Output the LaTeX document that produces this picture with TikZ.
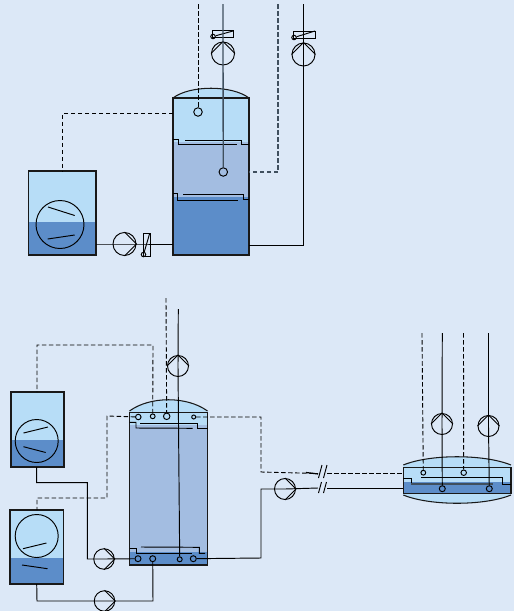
\documentclass[tikz,border=0pt]{standalone}
\usepackage{tikz}
\usetikzlibrary{arrows.meta,positioning,calc}

\definecolor{pagebg}{HTML}{DCE8F7}
\definecolor{liqlight}{HTML}{B7DDF7}
\definecolor{liqmid}{HTML}{A3BDE1}
\definecolor{liqdark}{HTML}{5C8DC9}
\definecolor{pipegrey}{HTML}{3F4F5E}

\tikzset{
  pipe/.style={line width=0.95pt,black},
  pipegr/.style={line width=1.4pt,pipegrey},
  signal/.style={line width=0.9pt,black,dash pattern=on 4.5pt off 2.5pt},
  wall/.style={line width=1.05pt,black!90},
  thin line/.style={line width=0.95pt,black},
  pumpnode/.style={circle,draw,line width=0.95pt,inner sep=0pt,minimum size=#1},
  pumpnode/.default=23pt,
  probe/.style={circle,draw,line width=0.95pt,inner sep=0pt,minimum size=#1},
  probe/.default=6pt
}

\begin{document}
\begin{tikzpicture}[x=1pt,y=-1pt]

  \fill[pagebg] (0,0) rectangle (514,611);
  \useasboundingbox (0,0) rectangle (514,611);

  % upper column: fills
  \fill[liqlight] (173,98) .. controls (190,85) and (232,85) .. (249,98) -- (249,142) -- (173,142) -- cycle;
  \fill[liqmid] (173,142) rectangle (249,197);
  \fill[liqdark] (173,197) rectangle (249,255);
  \draw[wall] (173,98) .. controls (190,85) and (232,85) .. (249,98);
  \draw[wall] (173,98) rectangle (249,255);

  % upper column: trays
  \foreach \ya/\yb/\xa/\xb/\xc/\xd in {139.3/144.7/178.3/236.7/185/241.7,193.5/200/177.3/237.7/183.3/243.3} {
    \draw[pipe] (173,\ya) -- (\xa,\ya) -- (\xa,\yb) -- (\xb,\yb);
    \draw[pipe] (\xc,\ya+1) -- (\xd,\ya+1) -- (\xd,\yb-0.5) -- (249,\yb-0.5);
  }

  % upper pumps and probes
  \node[pumpnode] (pumpa) at (223,53.5) {};
  \node[pumpnode] (pumpb) at (303.5,54.5) {};
  \node[pumpnode] (pumpc) at (124.5,244) {};
  \node[probe=8.5pt] (probea) at (198,112) {};
  \node[probe=8.5pt] (probeb) at (223.3,172) {};
  \draw[pipe] (pumpa.west) -- (pumpa.north) -- (pumpa.east);
  \draw[pipe] (pumpb.west) -- (pumpb.north) -- (pumpb.east);
  \draw[pipe] (pumpc.north) -- (pumpc.east) -- (pumpc.south);

  % upper valves
  \node[probe=4.5pt] (valvea) at (213,36.5) {};
  \node[probe=4.5pt] (valveb) at (294,37.5) {};
  \node[probe=4.5pt] (valvec) at (143.5,254.5) {};
  \draw[thin line] (212.5,30.5) rectangle (233,37.5);
  \draw[thin line] (valvea) -- (233,31);
  \draw[thin line] (293,31) rectangle (315,38);
  \draw[thin line] (valveb) -- (315,31);
  \draw[thin line] (143,233.5) rectangle (150.5,256);
  \draw[thin line] (valvec) -- (149.5,234);

  % upper tank
  \fill[liqlight] (28.5,171) rectangle (96,222);
  \fill[liqdark] (28.5,222) rectangle (96,255);
  \draw[wall] (28.5,171) rectangle (96,255);
  \node[circle,draw,line width=0.95pt,inner sep=0pt,minimum size=48pt] (gaugea) at (60,224.5) {};
  \draw[thin line] (48,207) -- (74.7,215.5);
  \draw[thin line] (47.7,239) -- (74.7,235);

  % upper pipes
  \coordinate (topa) at (223,4);
  \coordinate (topb) at (303.5,4);
  \coordinate (topc) at (198,4);
  \coordinate (topd) at (278,4);
  \draw[pipegr] (topa) -- (pumpa.center) -- (probeb);
  \draw[pipe] (topb) -- (pumpb.center) -- (303.5,245) -- (249,245);
  \draw[pipe] (96,244) -- (pumpc.center) -- (173,244);
  \draw[signal] (topc) -- (probea);
  \draw[signal,pipegrey,line width=1.2pt] (topd) -- (278,172) -- (249,172);
  \draw[signal] (173,113.4) -- (62.4,113.4) -- (62.4,171);

  % lower column: fills
  \fill[liqlight] (129.5,411) .. controls (150,396) and (187,396) .. (207.5,411) -- (207.5,425) -- (129.5,425) -- cycle;
  \fill[liqmid] (129.5,425) rectangle (207.5,552);
  \fill[liqdark] (129.5,552) rectangle (207.5,565);
  \draw[wall] (129.5,411) .. controls (150,396) and (187,396) .. (207.5,411);
  \draw[wall] (129.5,412.5) rectangle (207.5,565);

  % lower column: trays
  \draw[pipe] (129.5,422.3) -- (136,422.3) -- (136,428) -- (192.7,428.3);
  \draw[pipe] (140,423) -- (197.3,423) -- (197.3,428.3) -- (207.5,428.3);
  \draw[pipe] (129.5,548.3) -- (136.7,548.3) -- (136.7,553.3) -- (192,553.3);
  \draw[pipe] (141,547) -- (199.3,547.3) -- (199.3,553.3) -- (205,553.3);

  % lower probes
  \node[probe=5.5pt] (probec) at (138.3,417) {};
  \node[probe=4.8pt] (probed) at (152.7,416.3) {};
  \node[probe=6.5pt] (probee) at (166.7,416.3) {};
  \node[probe=4pt] (probef) at (193.7,417) {};
  \node[probe] (probeg) at (138,558.7) {};
  \node[probe] (probeh) at (152.7,558.7) {};
  \node[probe=5pt] (probei) at (179.7,559.3) {};
  \node[probe] (probej) at (193.3,558.7) {};

  % lower tanks
  \foreach \xa/\xb/\ya/\yb/\yc in {11/64/392/440/467,10/63.5/510/558/584} {
    \fill[liqlight] (\xa,\ya) rectangle (\xb,\yb);
    \fill[liqdark] (\xa,\yb) rectangle (\xb,\yc);
    \draw[wall] (\xa,\ya) rectangle (\xb,\yc);
  }
  \node[circle,draw,line width=0.95pt,inner sep=0pt,minimum size=43pt] (gaugeb) at (36.7,441) {};
  \node[circle,draw,line width=0.95pt,inner sep=0pt,minimum size=43pt] (gaugec) at (36.7,536) {};
  \draw[thin line] (23.5,433) -- (48,427);
  \draw[thin line] (23.5,446.7) -- (45.7,452.5);
  \draw[thin line] (23,548.7) -- (46.5,543);
  \draw[thin line] (22,565) -- (47.5,568.7);

  % lower pumps
  \node[pumpnode=21pt] (pumpd) at (178,366) {};
  \node[pumpnode=20.5pt] (pumpe) at (104,559) {};
  \node[pumpnode=20.5pt] (pumpf) at (104.5,601) {};
  \node[pumpnode=21pt] (pumpg) at (285,489) {};
  \node[pumpnode=21pt] (pumph) at (442,424) {};
  \node[pumpnode=21pt] (pumpi) at (488.5,426) {};
  \draw[pipe] (pumpd.west) -- (pumpd.north) -- (pumpd.east);
  \draw[pipe] (pumph.west) -- (pumph.north) -- (pumph.east);
  \draw[pipe] (pumpi.west) -- (pumpi.north) -- (pumpi.east);
  \draw[pipe] (pumpe.north) -- (pumpe.east) -- (pumpe.south);
  \draw[pipe] (pumpf.north) -- (pumpf.east) -- (pumpf.south);
  \draw[pipe] (pumpg.north) -- (pumpg.east) -- (pumpg.south);

  % right vessel
  \fill[liqlight] (403.3,465) .. controls (430,454) and (484,454) .. (511,465) -- (511,482) -- (403.3,482) -- cycle;
  \fill[liqdark] (403.3,482) rectangle (511,493.3);
  \fill[liqlight] (403.3,495) .. controls (430,506) and (484,506) .. (511,495) -- (511,493.3) -- (403.3,493.3) -- cycle;
  \draw[wall] (403.3,465) .. controls (430,454) and (484,454) .. (511,465);
  \draw[wall] (403.3,495) .. controls (430,506) and (484,506) .. (511,495);
  \draw[wall] (403.3,467.3) rectangle (511,493.3);
  \draw[pipe] (421,477.7) -- (502.3,477.7) -- (502.3,484.7) -- (511,484.7);
  \draw[pipe] (403.3,478) -- (411,478) -- (411,484);
  \draw[pipegr] (411,484) -- (493.3,484);
  \node[probe=4.8pt] (probek) at (423.3,472.7) {};
  \node[probe=5.5pt] (probel) at (463.7,472.7) {};
  \node[probe] (probem) at (442.3,488.7) {};
  \node[probe] (proben) at (489.3,488.7) {};

  % lower pipes
  \coordinate (topf) at (178.3,309);
  \coordinate (topg) at (166,298);
  \coordinate (toph) at (442.3,333);
  \coordinate (topi) at (488.5,333);
  \coordinate (topj) at (422,333);
  \coordinate (topk) at (463.5,333);
  \draw[pipe] (topf) -- (pumpd.center) -- (probei);
  \draw[pipe] (toph) -- (pumph.center) -- (probem);
  \draw[pipe] (topi) -- (pumpi.center) -- (proben);
  \draw[pipe] (36.7,467) -- (36.7,482.7) -- (87.3,482.7) -- (87.3,559) -- (pumpe.center) -- (probeg);
  \draw[pipe] (36.7,584) -- (37,601) -- (pumpf.center) -- (153,601) -- (probeh);
  \draw[pipe] (probej) -- (261,558) -- (261,489) -- (pumpg.center) -- (318,488);
  \draw[pipe] (327,488.4) -- (403.3,488.4);

  % lower signal lines
  \draw[signal] (topg) -- (probee);
  \draw[signal] (topj) -- (probek);
  \draw[signal] (topk) -- (probel);
  \draw[signal] (probed) -- (153,345) -- (37,345) -- (37,392);
  \draw[signal] (probec) -- (107,416) -- (107,498) -- (37,498) -- (37,510);
  \draw[signal] (probef) -- (261,417) -- (261,472) -- (318,473.5);
  \draw[signal] (327,473.5) -- (403.3,473.5);
  \draw[line width=1.2pt] (306,472.5) -- (318,474);

  % line breaks
  \foreach \x in {318.5,323.5} {
    \draw[thin line] (\x,478) -- (\x+3.5,465);
    \draw[thin line] (\x,493) -- (\x+3,482);
  }

\end{tikzpicture}
\end{document}
